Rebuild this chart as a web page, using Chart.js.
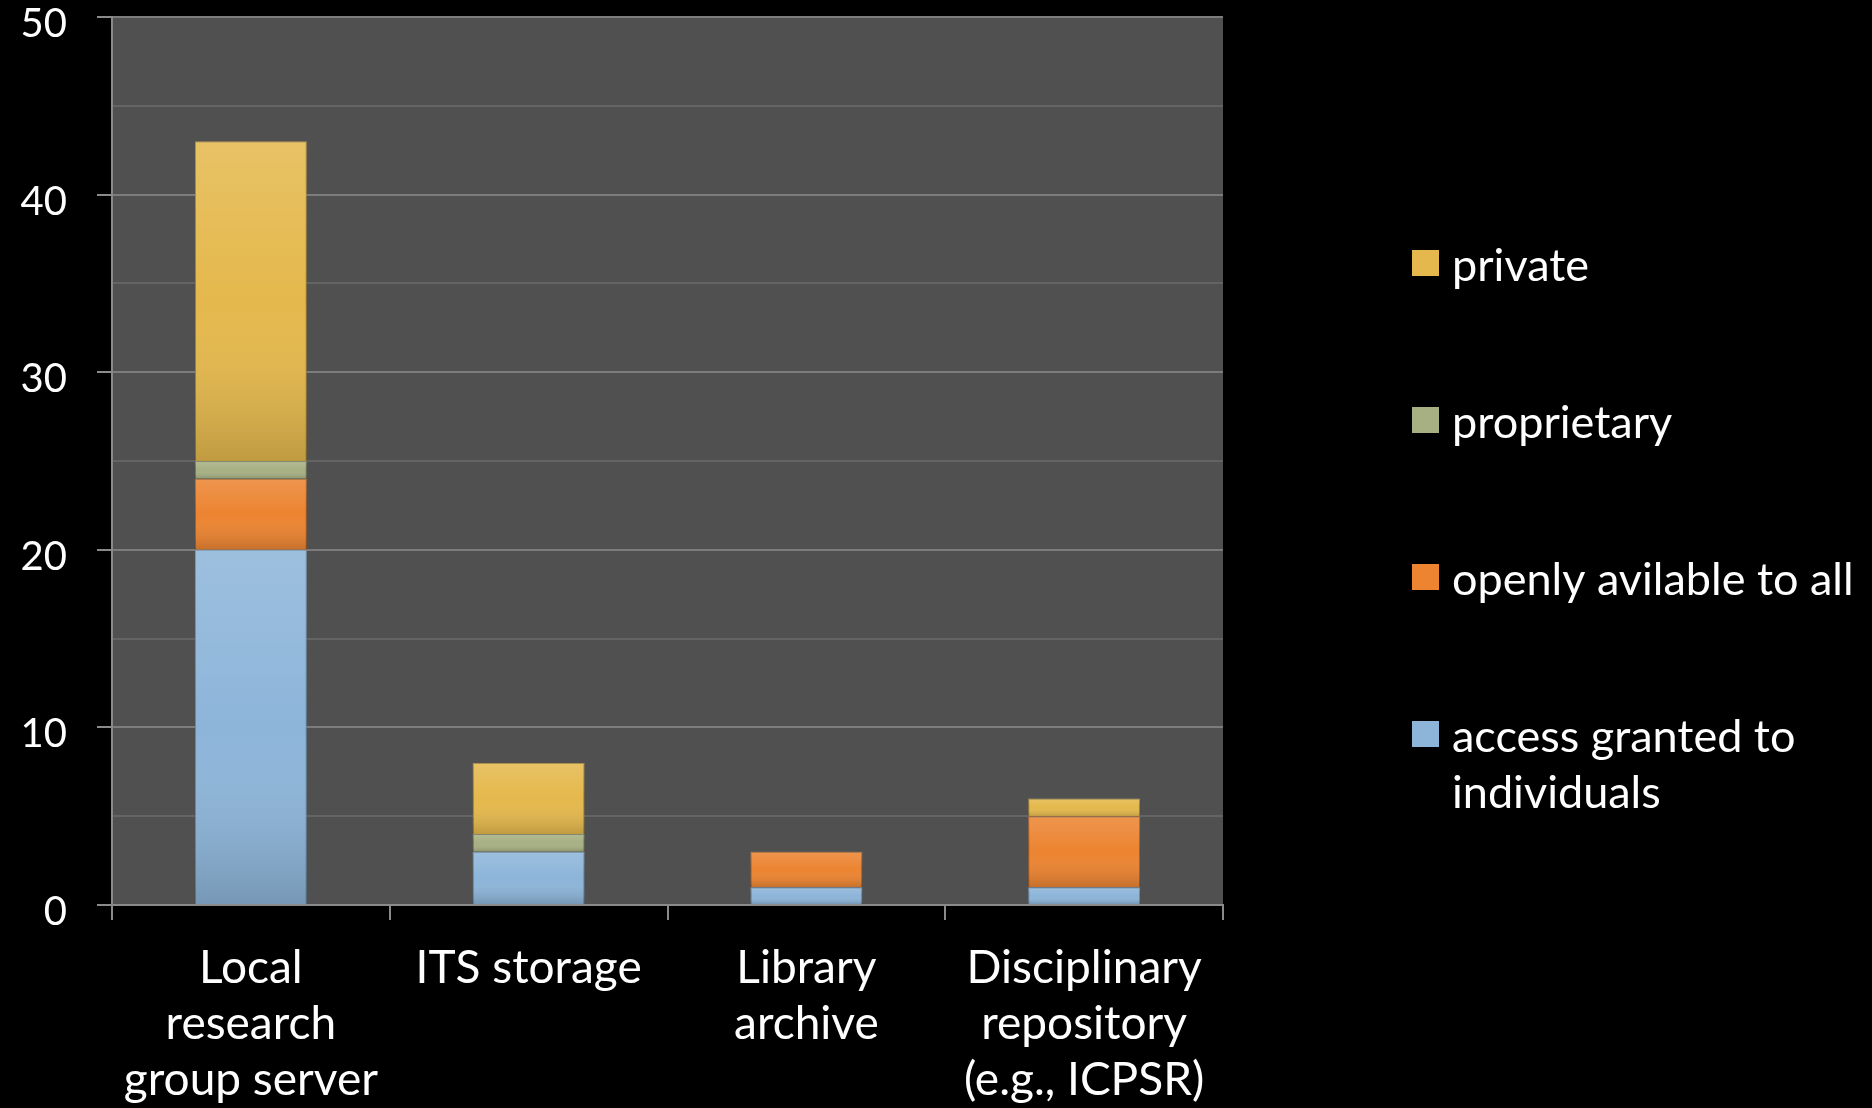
<!DOCTYPE html>
<html>
<head>
<meta charset="utf-8">
<script src="https://cdn.jsdelivr.net/npm/chart.js@4.4.1/dist/chart.umd.min.js"></script>
<style>
    html, body { margin: 0; padding: 0; background: #000; }
    #wrap { width: 1872px; height: 1108px; }
</style>
</head>
<body>
<div id="wrap"><canvas id="storageChart"></canvas></div>
<script>
// data
const categories = [
    ['Local', 'research', 'group server'],
    'ITS storage',
    ['Library', 'archive'],
    ['Disciplinary', 'repository', '(e.g., ICPSR)']
];
const seriesNames = ['access granted to individuals', 'openly avilable to all', 'proprietary', 'private'];
const accessGranted = [20, 3, 1, 1];
const openlyAvailable = [4, 0, 2, 4];
const proprietary = [1, 1, 0, 0];
const privateData = [18, 4, 0, 1];
const yTickLabels = [0, 10, 20, 30, 40, 50];

const FONT = 'Lato, "Open Sans", sans-serif';

// grey plot area
const plotBackground = {
    id: 'plotBackground',
    beforeDraw(chart) {
        const { ctx, chartArea } = chart;
        ctx.save();
        ctx.fillStyle = '#505050';
        ctx.fillRect(chartArea.left, chartArea.top, chartArea.right - chartArea.left, chartArea.bottom - chartArea.top);
        ctx.restore();
    }
};

// soft top-to-bottom shading on every bar segment
const barShading = {
    id: 'barShading',
    afterDatasetsDraw(chart) {
        const ctx = chart.ctx;
        ctx.save();
        chart.data.datasets.forEach((ds, i) => {
            chart.getDatasetMeta(i).data.forEach(bar => {
                const h = bar.base - bar.y;
                if (h <= 0) return;
                const w = bar.width;
                const g = ctx.createLinearGradient(0, bar.y, 0, bar.base);
                g.addColorStop(0, 'rgba(255,255,255,0.14)');
                g.addColorStop(0.5, 'rgba(255,255,255,0)');
                g.addColorStop(1, 'rgba(0,0,0,0.16)');
                ctx.fillStyle = g;
                ctx.fillRect(bar.x - w / 2, bar.y, w, h);
            });
        });
        ctx.restore();
    }
};

// legend on the right, top item = top of stack
const sideLegend = {
    id: 'sideLegend',
    afterDraw(chart) {
        const ctx = chart.ctx;
        const items = chart.data.datasets.slice().reverse();
        ctx.save();
        ctx.font = '45px ' + FONT;
        ctx.textBaseline = 'middle';
        items.forEach((ds, i) => {
            const y = 266 + i * 157;
            ctx.fillStyle = ds.backgroundColor;
            ctx.fillRect(1412, y - 16, 27, 26);
            ctx.fillStyle = '#ffffff';
            // wrap long labels
            const words = ds.label.split(' ');
            const lines = [];
            let line = '';
            words.forEach(w => {
                const test = line ? line + ' ' + w : w;
                if (ctx.measureText(test).width > 440 && line) {
                    lines.push(line);
                    line = w;
                } else {
                    line = test;
                }
            });
            lines.push(line);
            lines.forEach((t, j) => ctx.fillText(t, 1452, y + j * 56));
        });
        ctx.restore();
    }
};

const ctx = document.getElementById('storageChart').getContext('2d');

new Chart(ctx, {
    type: 'bar',
    data: {
        labels: categories,
        datasets: [
            { label: seriesNames[0], data: accessGranted, backgroundColor: '#8db5d9', borderColor: '#6788a6' },
            { label: seriesNames[1], data: openlyAvailable, backgroundColor: '#ec8431', borderColor: '#a85a1c' },
            { label: seriesNames[2], data: proprietary, backgroundColor: '#a7b083', borderColor: '#6f7656' },
            { label: seriesNames[3], data: privateData, backgroundColor: '#e4b84c', borderColor: '#9c7d2f' }
        ]
    },
    options: {
        responsive: true,
        maintainAspectRatio: false,
        animation: false,
        layout: {
            padding: { top: 17, right: 649, left: 0, bottom: 0 }
        },
        datasets: {
            bar: {
                barPercentage: 0.403,
                categoryPercentage: 1,
                borderWidth: 1
            }
        },
        plugins: {
            legend: { display: false },
            tooltip: { enabled: false }
        },
        scales: {
            x: {
                stacked: true,
                border: { color: '#8a8a8a', width: 2 },
                grid: {
                    offset: true,
                    drawOnChartArea: false,
                    drawTicks: true,
                    tickLength: 15,
                    tickColor: '#8a8a8a',
                    lineWidth: 2
                },
                ticks: {
                    color: '#ffffff',
                    font: { family: FONT, size: 46, lineHeight: 1.22 },
                    padding: 20,
                    maxRotation: 0,
                    autoSkip: false
                },
                afterFit(scale) {
                    scale.height = 203;
                    scale.paddingLeft = 0;
                    scale.paddingRight = 0;
                }
            },
            y: {
                stacked: true,
                min: 0,
                max: 50,
                border: { color: '#8a8a8a', width: 2 },
                grid: {
                    color: c => (c.tick && c.tick.value % 10 === 0) ? '#7c7c7c' : '#646464',
                    lineWidth: 2,
                    tickLength: 15,
                    tickColor: c => (c.tick && c.tick.value % 10 === 0) ? '#8a8a8a' : 'rgba(0,0,0,0)'
                },
                ticks: {
                    stepSize: 5,
                    color: '#ffffff',
                    font: { family: FONT, size: 40 },
                    padding: 30,
                    labelOffset: 7,
                    callback: v => yTickLabels.includes(v) ? String(v) : ''
                },
                afterFit(scale) {
                    scale.width = 112;
                    scale.paddingTop = 0;
                    scale.paddingBottom = 0;
                }
            }
        }
    },
    plugins: [plotBackground, barShading, sideLegend]
});
</script>
</body>
</html>
